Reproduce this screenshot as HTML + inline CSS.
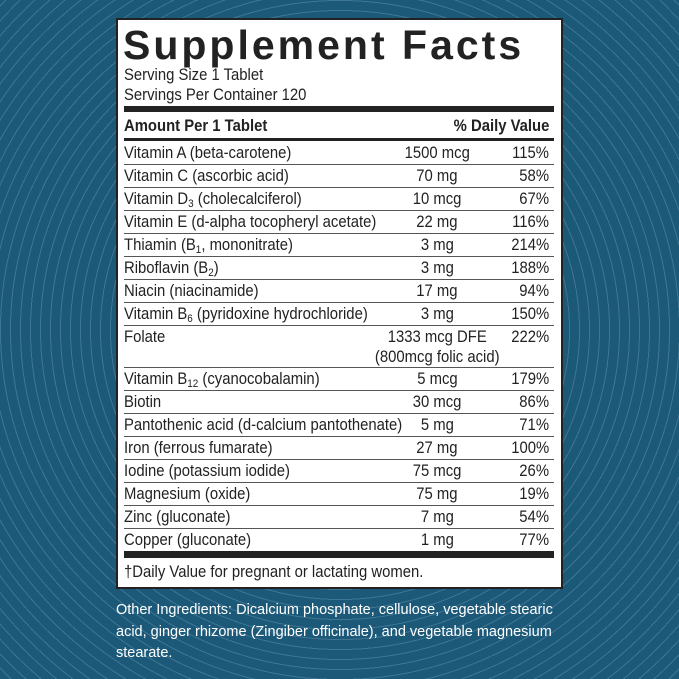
<!DOCTYPE html>
<html><head><style>
body{margin:0;width:679px;height:679px;overflow:hidden;background:#1c5979;font-family:"Liberation Sans",sans-serif;position:relative}
.bg{position:absolute;inset:0;background:repeating-radial-gradient(circle at 340px 330px,rgba(255,255,255,0) 0 9px,rgba(160,200,220,0.25) 9px 10px)}
.panel{position:absolute;left:116px;top:18px;width:443px;height:567px;background:#fff;border:2px solid #222;}
.t{position:absolute;white-space:nowrap;color:#222;font-size:16.5px;line-height:20px}
.s{display:inline-block;transform:scaleX(0.9);transform-origin:left center}
.c{position:absolute;width:200px;text-align:center;white-space:nowrap;font-size:16.5px;color:#222;line-height:20px}
.c span{display:inline-block;transform:scaleX(0.9)}
.r{position:absolute;right:0;text-align:right;white-space:nowrap;font-size:16.5px;color:#222;line-height:20px}
.r span{display:inline-block;transform:scaleX(0.9);transform-origin:right center}
.hl{position:absolute;left:124px;width:430px;background:#222}
sub{font-size:11px;vertical-align:-3px;line-height:0}
.oi{position:absolute;left:116px;top:600px;width:460px;color:#fff;font-size:14.5px;line-height:21.5px}
</style></head><body>
<div class="bg"></div>
<div class="panel"></div>
<div style="position:absolute;left:123px;top:20px;font-size:41px;font-weight:bold;color:#222;letter-spacing:3px;line-height:50px">Supplement Facts</div>
<div class="t" style="left:124px;top:65px"><span class="s">Serving Size 1 Tablet</span></div>
<div class="t" style="left:124px;top:85px"><span class="s">Servings Per Container 120</span></div>
<div class="hl" style="top:106px;height:6px"></div>
<div class="t" style="left:124px;top:116px;font-weight:bold"><span class="s">Amount Per 1 Tablet</span></div>
<div class="r" style="left:0;width:549px;top:116px;font-weight:bold"><span>% Daily Value</span></div>
<div class="hl" style="top:138px;height:3px"></div>
<div id="rows"></div>
<script>
var rows=[["Vitamin A (beta-carotene)","1500 mcg","115%"],["Vitamin C (ascorbic acid)","70 mg","58%"],["Vitamin D<sub>3</sub> (cholecalciferol)","10 mcg","67%"],["Vitamin E (d-alpha tocopheryl acetate)","22 mg","116%"],["Thiamin (B<sub>1</sub>, mononitrate)","3 mg","214%"],["Riboflavin (B<sub>2</sub>)","3 mg","188%"],["Niacin (niacinamide)","17 mg","94%"],["Vitamin B<sub>6</sub> (pyridoxine hydrochloride)","3 mg","150%"],["Folate","1333 mcg DFE<br>(800mcg folic acid)","222%",1],["Vitamin B<sub>12</sub> (cyanocobalamin)","5 mcg","179%"],["Biotin","30 mcg","86%"],["Pantothenic acid (d-calcium pantothenate)","5 mg","71%"],["Iron (ferrous fumarate)","27 mg","100%"],["Iodine (potassium iodide)","75 mcg","26%"],["Magnesium (oxide)","75 mg","19%"],["Zinc (gluconate)","7 mg","54%"],["Copper (gluconate)","1 mg","77%"]];
var y=141,h="";
rows.forEach(function(r,i){
 var hh=r[3]?42:23;
 h+='<div class="t" style="left:124px;top:'+(y+2)+'px"><span class="s">'+r[0]+'</span></div>';
 h+='<div class="c" style="left:337px;top:'+(y+2)+'px"><span>'+r[1]+'</span></div>';
 h+='<div class="r" style="left:0;width:549px;top:'+(y+2)+'px"><span>'+r[2]+'</span></div>';
 y+=hh;
 if(i<rows.length-1)h+='<div class="hl" style="top:'+y+'px;height:1px;background:#555"></div>';
});
h+='<div class="hl" style="top:'+y+'px;height:7px"></div>';
h+='<div class="t" style="left:124px;top:'+(y+11)+'px"><span class="s">†Daily Value for pregnant or lactating women.</span></div>';
document.getElementById('rows').innerHTML=h;
</script>
<div class="oi">Other Ingredients: Dicalcium phosphate, cellulose, vegetable stearic acid, ginger rhizome (Zingiber officinale), and vegetable magnesium stearate.</div>
</body></html>
